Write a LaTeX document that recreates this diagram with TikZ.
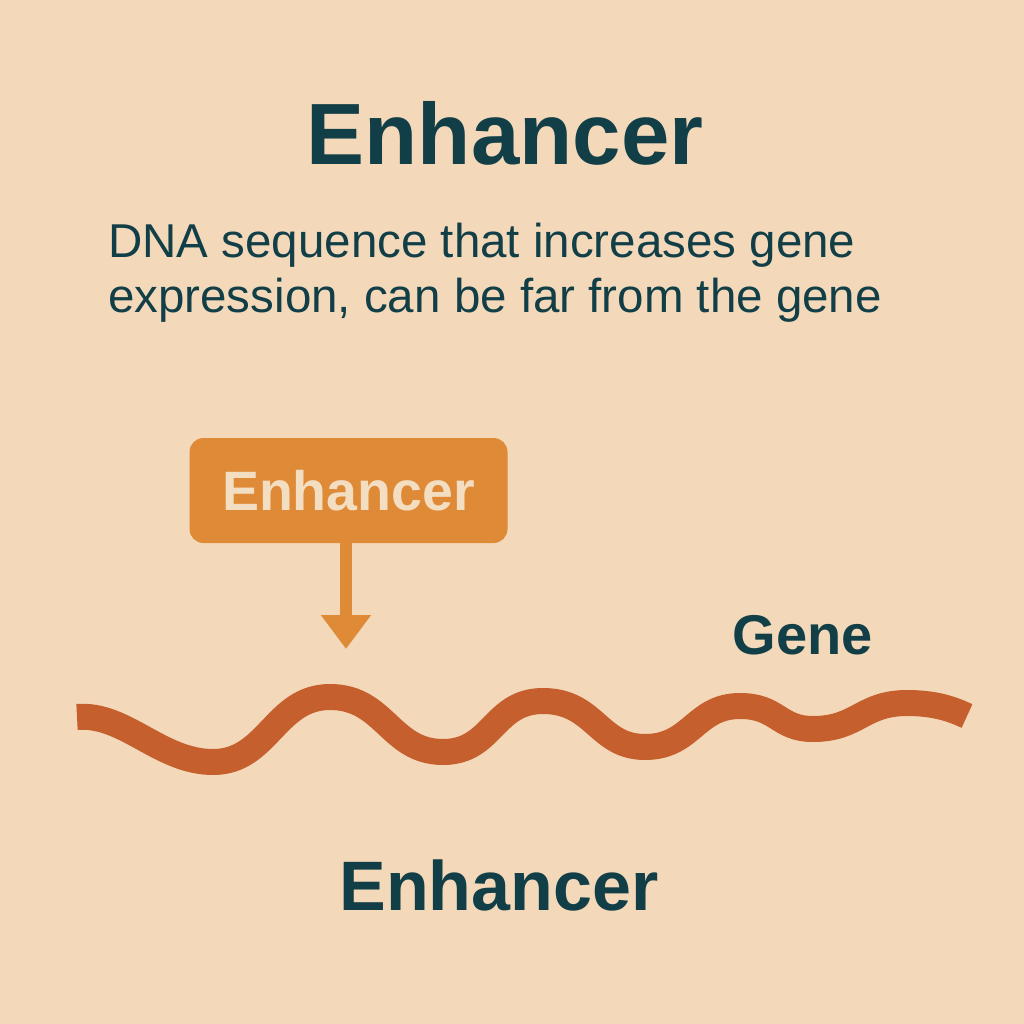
\documentclass[tikz,border=0pt]{standalone}
\usepackage{fontspec}
\setmainfont{Liberation Sans}
\usetikzlibrary{arrows.meta}
\definecolor{bgc}{HTML}{F3D9BA}
\definecolor{teal}{HTML}{123F47}
\definecolor{boxc}{HTML}{DE8A37}
\definecolor{wavec}{HTML}{C65F2E}
\definecolor{cream}{HTML}{F4DEC2}
\tikzset{
  darktext/.style={text=teal, inner sep=0pt},
  boxstyle/.style={fill=boxc, rounded corners=14pt, minimum width=318pt, minimum height=105pt, inner sep=0pt, text=cream},
  wavestyle/.style={draw=wavec, line width=26pt, line cap=butt},
}
\begin{document}
\begin{tikzpicture}[x=1pt,y=-1pt]
\fill[bgc] (0,0) rectangle (1024,1024);
\useasboundingbox (0,0) rectangle (1024,1024);
\node[darktext, font=\fontsize{87}{90}\selectfont\bfseries] (title) at (505,133) {Enhancer};
\node[darktext, anchor=west, font=\fontsize{47.5}{52}\selectfont] (sub1) at (108,245) {DNA sequence that increases gene};
\node[darktext, anchor=west, font=\fontsize{47.5}{52}\selectfont] (sub2) at (108,300) {expression, can be far from the gene};
\node[boxstyle, font=\fontsize{55.5}{58}\selectfont\bfseries] (box) at (348.5,490.5) {Enhancer};
\coordinate (tip) at (346,649);
\draw[boxc, line width=12pt, -{Triangle[length=34pt,width=48pt]}] (box.south -| tip) -- (tip);
\node[darktext, font=\fontsize{56}{60}\selectfont\bfseries] (gene) at (803,635) {Gene};
\coordinate (w0) at (77,717);
\coordinate (w9) at (967,716);
\path[wavestyle] (w0) .. controls (125,713) and (160,762) .. (213,762)
  .. controls (268,762) and (275,697) .. (330,697)
  .. controls (385,697) and (390,752) .. (443,752)
  .. controls (493,752) and (493,701) .. (543,701)
  .. controls (595,701) and (598,747) .. (645,747)
  .. controls (692,747) and (695,706) .. (740,706)
  .. controls (778,706) and (778,729) .. (813,729)
  .. controls (858,729) and (862,703) .. (907,703)
  .. controls (935,703) and (952,709) .. (w9);
\node[darktext, font=\fontsize{70}{74}\selectfont\bfseries] (bottom) at (499,885) {Enhancer};
\end{tikzpicture}
\end{document}
